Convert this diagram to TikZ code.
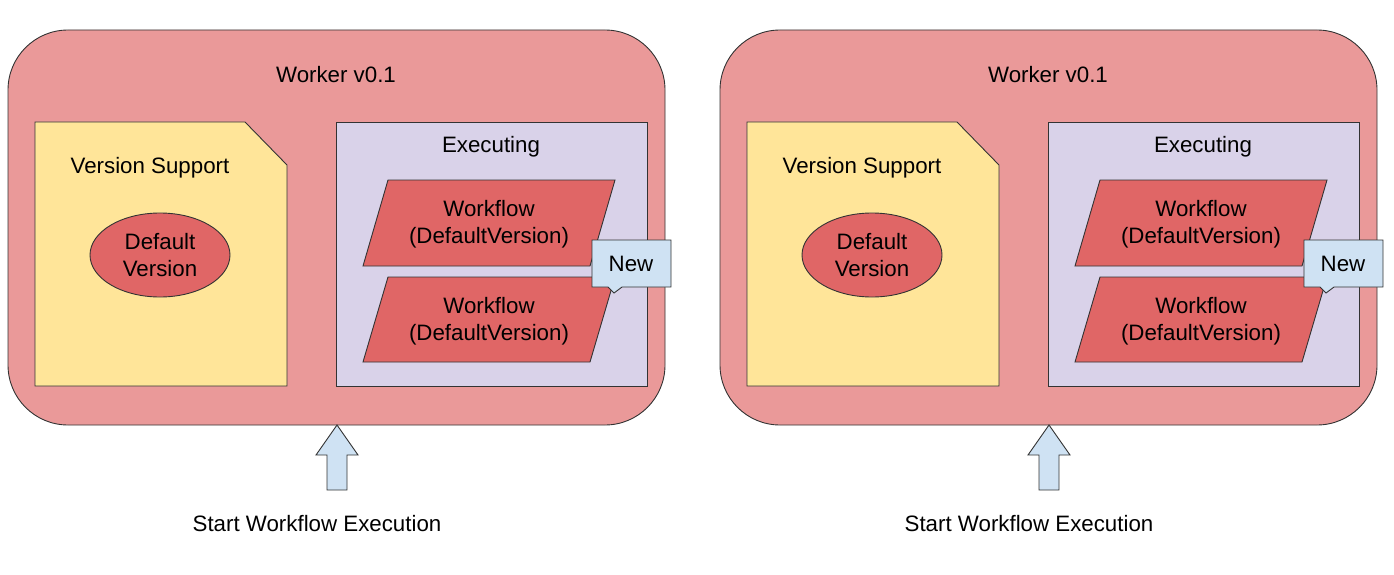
\documentclass[tikz,border=0pt]{standalone}
\usepackage{fontspec}
\setmainfont{Liberation Sans}
\usetikzlibrary{shapes.geometric}
\definecolor{wk}{HTML}{EA9999}
\definecolor{ye}{HTML}{FFE599}
\definecolor{rd}{HTML}{E06666}
\definecolor{pu}{HTML}{D9D2E9}
\definecolor{bl}{HTML}{CFE2F3}
\begin{document}
\begin{tikzpicture}[x=1pt,y=-1pt,
  ln/.style={draw=black!80,line width=0.9pt},
  txt/.style={font=\fontsize{22.3}{27}\selectfont,align=center,inner sep=0pt}]
\useasboundingbox (0,0) rectangle (1394,575);
\foreach \o/\s in {0/L,712/R}{
\begin{scope}[xshift=\o]
 \path[ln,fill=wk,rounded corners=60pt] (8,30) rectangle (665,425);
 \node[txt] (title\s) at (336,75) {Worker v0.1};
 \path[ln,fill=ye] (35,122) -- (245,122) -- (287,165) -- (287,386) -- (35,386) -- cycle;
 \node[txt] (vs\s) at (150,168) {Version Support};
 \node[ln,fill=rd,ellipse,minimum width=140pt,minimum height=84pt,txt] (dv\s) at (160,255) {Default\\Version};
 \path[ln,fill=pu] (336,122) rectangle (647,386);
 \node[txt] (ex\s) at (491,147) {Executing};
 \path[ln,fill=rd] (388,180) -- (615,180) -- (590,266) -- (363,266) -- cycle;
 \node[txt] (wa\s) at (489,224) {Workflow\\(DefaultVersion)};
 \path[ln,fill=rd] (388,277) -- (615,277) -- (590,362) -- (363,362) -- cycle;
 \node[txt] (wb\s) at (489,321) {Workflow\\(DefaultVersion)};
 \path[ln,fill=bl] (592,240) -- (671,240) -- (671,287) -- (622,287) -- (614,293) -- (608,287) -- (592,287) -- cycle;
 \node[txt] (nw\s) at (631,264) {New};
 \path[ln,fill=bl] (337,425) -- (358,455) -- (347,455) -- (347,490) -- (327,490) -- (327,455) -- (316,455) -- cycle;
 \node[txt] (st\s) at (317,524) {Start Workflow Execution};
\end{scope}}
\end{tikzpicture}
\end{document}
